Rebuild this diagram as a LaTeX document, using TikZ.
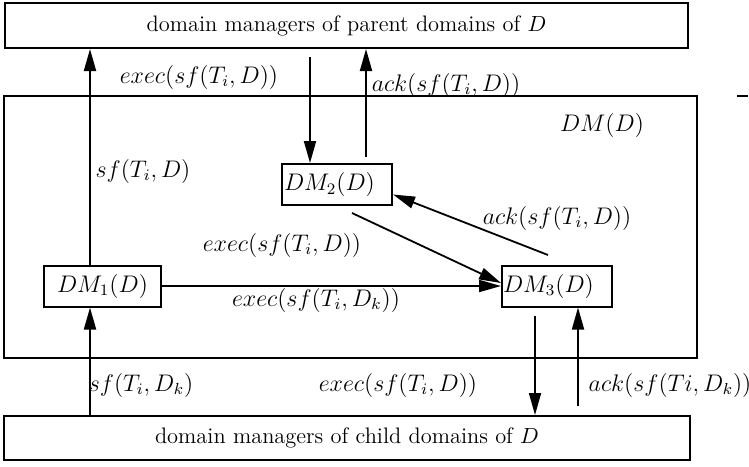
\documentclass[tikz,border=0pt]{standalone}
\usetikzlibrary{arrows.meta,calc}
\begin{document}
\begin{tikzpicture}[x=0.5pt,y=-0.5pt,
  box/.style={draw, line width=1pt, inner sep=0pt},
  dmbox/.style={box, minimum height=20.5pt, font=\large},
  arr/.style={line width=0.9pt, -{Triangle[length=11pt,width=6pt]}},
  lbl/.style={inner sep=0pt, font=\large},
  wide/.style={box, font=\fontsize{11.2}{13}\selectfont}]
\useasboundingbox (0,0) rectangle (749,466);
% big boxes
\node[wide, minimum width=341.5pt, minimum height=22.5pt] (top) at (346.5,25.5) {domain managers of parent domains of $D$};
\node[box, minimum width=346.5pt, minimum height=131pt] (dm) at (350.5,227) {};
\node[wide, minimum width=343pt, minimum height=22pt] (bot) at (347,438) {domain managers of child domains of $D$};
% DM boxes
\node[dmbox, minimum width=58.5pt] (dm1) at (102.5,286) {$DM_1(D)$};
\node[dmbox, text width=53pt, inner xsep=1pt, align=left] (dm2) at (337,184.5) {$DM_2(D)$};
\node[dmbox, text width=54pt, inner xsep=0.5pt, align=left] (dm3) at (557,286) {$DM_3(D)$};
% x positions
\coordinate (xa) at (90,0);
\coordinate (xb) at (310,0);
\coordinate (xc) at (366,0);
\coordinate (xd) at (535,0);
\coordinate (xe) at (578,0);
\coordinate (p4) at (352,213);
\coordinate (p5) at (548,255);
% connectors
\draw[arr] (dm1.north -| xa) -- (top.south -| xa);
\draw[arr, shorten <=4pt] (top.south -| xb) -- (dm2.north -| xb);
\draw[arr, shorten <=3pt] (dm2.north -| xc) -- (top.south -| xc);
\draw[arr] (p4) -- ($(dm3.west)+(0,-3)$);
\draw[arr] (p5) -- ($(dm2.east)+(0,10)$);
\draw[arr] (dm1.east) -- (dm3.west);
\draw[arr] (bot.north -| xa) -- (dm1.south -| xa);
\draw[arr, shorten <=4pt] (dm3.south -| xd) -- (bot.north -| xd);
\draw[arr, shorten <=4.5pt] (bot.north -| xe) -- (dm3.south -| xe);
% stray mark
\draw[line width=0.9pt] (737,96) -- (748,96);
% labels
\node[lbl] (l1) at (199,77) {$exec(sf(T_i,D))$};
\node[lbl] (l2) at (446,85) {$ack(sf(T_i,D))$};
\node[lbl] (l3) at (602,125) {$DM(D)$};
\node[lbl] (l4) at (143,171) {$sf(T_i,D)$};
\node[lbl] (l5) at (282,245) {$exec(sf(T_i,D))$};
\node[lbl] (l6) at (557,218) {$ack(sf(T_i,D))$};
\node[lbl] (l7) at (316,300) {$exec(sf(T_i,D_k))$};
\node[lbl] (l8) at (141,385) {$sf(T_i,D_k)$};
\node[lbl] (l9) at (398,385) {$exec(sf(T_i,D))$};
\node[lbl] (l10) at (670,385) {$ack(sf(Ti,D_k))$};
\end{tikzpicture}
\end{document}
